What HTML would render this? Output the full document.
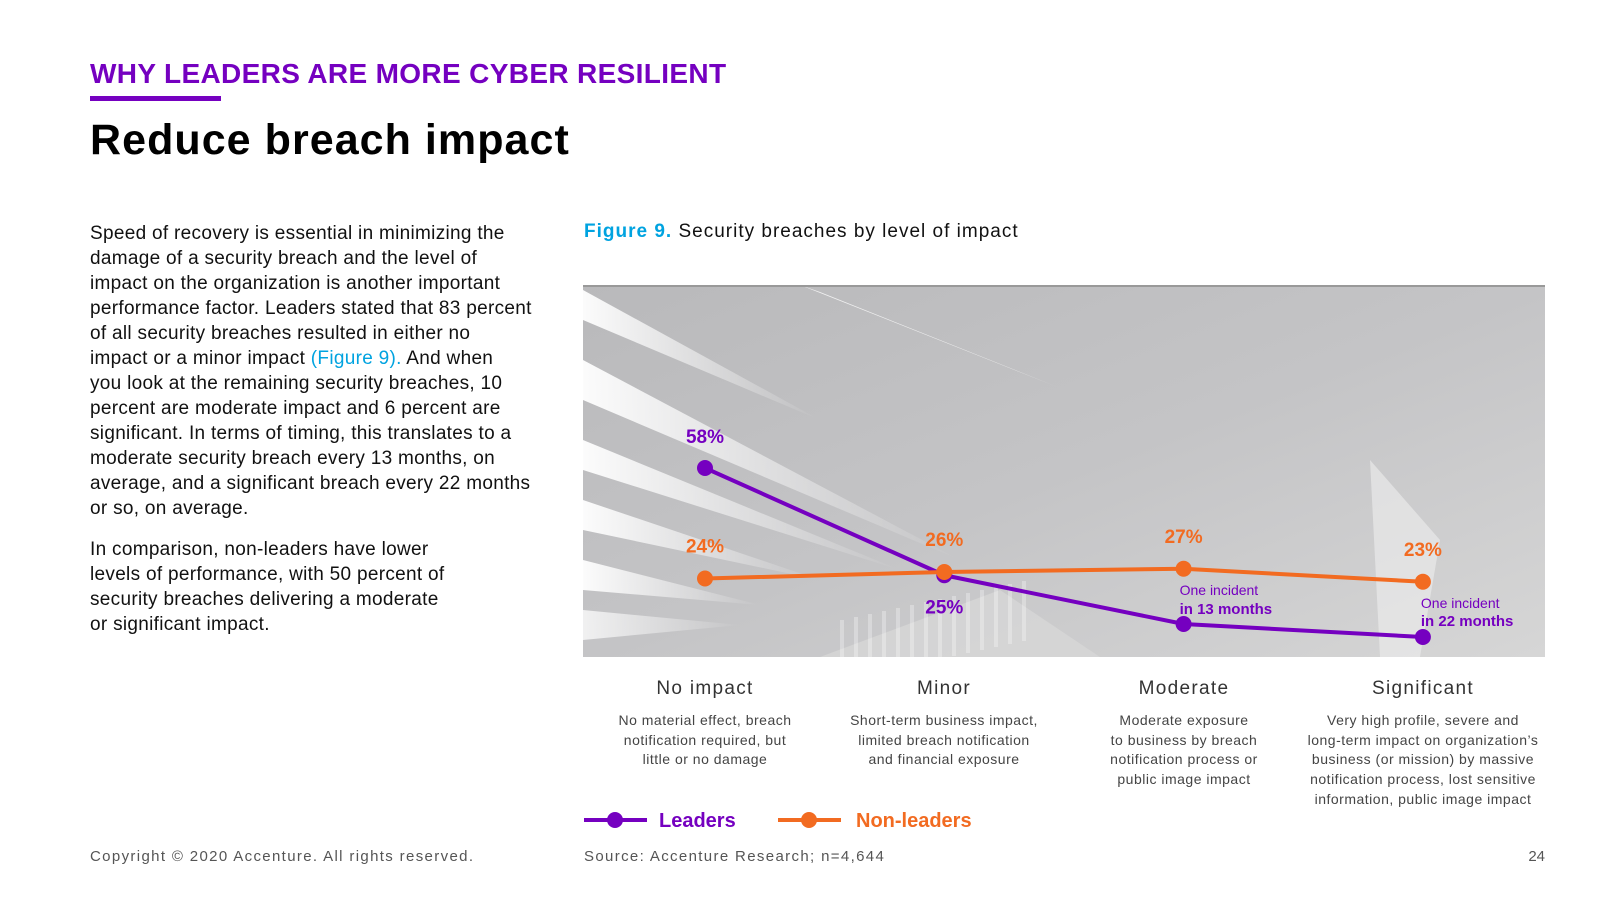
<!DOCTYPE html>
<html><head><meta charset="utf-8">
<style>
html,body{margin:0;padding:0;background:#fff;}
body{width:1600px;height:900px;position:relative;overflow:hidden;font-family:"Liberation Sans",sans-serif;color:#000;}
.abs{position:absolute;}
#kicker{left:90px;top:58px;font-size:28px;font-weight:bold;color:#7500c0;letter-spacing:0.35px;white-space:nowrap;}
#rule{left:90px;top:96px;width:131px;height:5px;background:#7500c0;}
#title{left:90px;top:116px;font-size:43px;font-weight:bold;letter-spacing:1.05px;white-space:nowrap;}
.body{left:90px;font-size:19px;line-height:25px;color:#111;white-space:nowrap;letter-spacing:0.3px;}
#figtitle{left:584px;top:221px;font-size:19px;color:#111;letter-spacing:1px;white-space:nowrap;}
#figtitle b{color:#00a3e0;}
.cat{width:220px;text-align:center;font-size:19px;color:#333;top:678px;letter-spacing:1.3px;}
.desc{width:260px;text-align:center;font-size:14px;line-height:19.7px;color:#444;top:711px;letter-spacing:0.5px;white-space:nowrap;}
.foot{top:848px;font-size:15px;color:#555;letter-spacing:1.35px;white-space:nowrap;}
</style></head>
<body>
<div class="abs" id="kicker">WHY LEADERS ARE MORE CYBER RESILIENT</div>
<div class="abs" id="rule"></div>
<div class="abs" id="title">Reduce breach impact</div>
<div class="abs body" style="top:221px;">Speed of recovery is essential in minimizing the<br>damage of a security breach and the level of<br>impact on the organization is another important<br>performance factor. Leaders stated that 83 percent<br>of all security breaches resulted in either no<br>impact or a minor impact <span style="color:#00a3e0">(Figure 9).</span> And when<br>you look at the remaining security breaches, 10<br>percent are moderate impact and 6 percent are<br>significant. In terms of timing, this translates to a<br>moderate security breach every 13 months, on<br>average, and a significant breach every 22 months<br>or so, on average.</div>
<div class="abs body" style="top:537px;">In comparison, non-leaders have lower<br>levels of performance, with 50 percent of<br>security breaches delivering a moderate<br>or significant impact.</div>
<div class="abs" id="figtitle"><b>Figure 9.</b> Security breaches by level of impact</div>

<svg class="abs" style="left:0;top:0" width="1600" height="900" id="chart">
<defs>
<linearGradient id="bg" x1="0" y1="0" x2="1" y2="1">
<stop offset="0" stop-color="#b9b9bb"/><stop offset="0.5" stop-color="#c4c4c6"/><stop offset="1" stop-color="#d6d6d6"/></linearGradient>
<linearGradient id="streak" x1="0" y1="0" x2="1" y2="0"><stop offset="0" stop-color="#fff" stop-opacity="0.95"/><stop offset="1" stop-color="#fff" stop-opacity="0"/></linearGradient>
<clipPath id="clip"><rect x="583" y="285" width="962" height="372"/></clipPath>
</defs>
<g clip-path="url(#clip)">
<rect x="583" y="285" width="962" height="372" fill="url(#bg)"/>
<polygon points="583,290 583,320 820,420" fill="url(#streak)"/>
<polygon points="800,285 820,292 1060,388" fill="#fff" opacity="0.8"/>
<polygon points="583,360 583,400 960,560" fill="url(#streak)"/>
<polygon points="583,440 583,470 900,570" fill="url(#streak)"/>
<polygon points="583,500 583,530 820,580" fill="url(#streak)"/>
<polygon points="583,560 583,590 760,605" fill="url(#streak)"/>
<polygon points="583,610 583,640 740,625" fill="url(#streak)" opacity="0.8"/>
<polygon points="1370,460 1440,540 1420,657 1380,657" fill="#eee" opacity="0.6"/>
<polygon points="820,657 1000,590 1100,657" fill="#d8d8d8" opacity="0.7"/>
<g id="fins" opacity="0.3"></g>
<rect x="583" y="285" width="962" height="2" fill="#999"/>
</g>
<g id="series"></g>
</svg>

<div class="abs cat" style="left:595px">No impact</div>
<div class="abs cat" style="left:834px">Minor</div>
<div class="abs cat" style="left:1074px">Moderate</div>
<div class="abs cat" style="left:1313px">Significant</div>
<div class="abs desc" style="left:575px">No material effect, breach<br>notification required, but<br>little or no damage</div>
<div class="abs desc" style="left:814px">Short-term business impact,<br>limited breach notification<br>and financial exposure</div>
<div class="abs desc" style="left:1054px">Moderate exposure<br>to business by breach<br>notification process or<br>public image impact</div>
<div class="abs desc" style="left:1293px">Very high profile, severe and<br>long-term impact on organization’s<br>business (or mission) by massive<br>notification process, lost sensitive<br>information, public image impact</div>

<svg class="abs" style="left:580px;top:805px" width="420" height="30">
<g>
<line x1="4" y1="15" x2="67" y2="15" stroke="#7500c0" stroke-width="4"/><circle cx="35" cy="15" r="8" fill="#7500c0"/>
<text x="79" y="22" font-size="20" font-weight="bold" fill="#7500c0" font-family="Liberation Sans, sans-serif">Leaders</text></g>
<g>
<line x1="198" y1="15" x2="261" y2="15" stroke="#f26b21" stroke-width="4"/><circle cx="229" cy="15" r="8" fill="#f26b21"/>
<text x="276" y="22" font-size="20" font-weight="bold" fill="#f26b21" font-family="Liberation Sans, sans-serif">Non-leaders</text></g>
</svg>

<div class="abs foot" style="left:90px">Copyright © 2020 Accenture. All rights reserved.</div>
<div class="abs foot" style="left:584px">Source: Accenture Research; n=4,644</div>
<div class="abs foot" style="left:1500px;width:45px;text-align:right;letter-spacing:0">24</div>

<script>
const categories = ["No impact","Minor","Moderate","Significant"];
const leaders = [58, 25, 10, 6];
const nonLeaders = [24, 26, 27, 23];
const leaderLabels = ["58%","25%","",""];
const nonLeaderLabels = ["24%","26%","27%","23%"];

const NS = "http://www.w3.org/2000/svg";
const xPos = i => 705 + i * 239.3;
const yPos = v => 656.5 - v * 3.25;
const g = document.getElementById('series');
const fins = document.getElementById('fins');
for (let k = 0; k < 14; k++) {
  const r = document.createElementNS(NS, 'rect');
  r.setAttribute('x', 840 + k * 14); r.setAttribute('y', 620 - k * 3);
  r.setAttribute('width', 4); r.setAttribute('height', 60);
  r.setAttribute('fill', '#fff');
  
  
  fins.appendChild(r);
}
function mk(tag, attrs) { const e = document.createElementNS(NS, tag); for (const k in attrs) e.setAttribute(k, attrs[k]); g.appendChild(e); return e; }
function drawSeries(vals, color, name) {
  const pts = vals.map((v, i) => xPos(i) + ',' + yPos(v)).join(' ');
  const pl = mk('polyline', {points: pts, fill: 'none', stroke: color, 'stroke-width': 4, 'stroke-linejoin': 'round'});
  
  
  vals.forEach((v, i) => {
    const c = mk('circle', {cx: xPos(i), cy: yPos(v), r: 8, fill: color});
    
    
  });
}
drawSeries(leaders, '#7500c0', 'leaders');
drawSeries(nonLeaders, '#f26b21', 'non-leaders');
function label(x, y, txt, color, size, weight, anchor, nm) {
  const t = mk('text', {x: x, y: y, fill: color, 'font-size': size, 'font-weight': weight, 'text-anchor': anchor, 'font-family': 'Liberation Sans, sans-serif'});
  t.textContent = txt;
  
  
}
leaders.forEach((v, i) => {
  if (!leaderLabels[i]) return;
  const above = i === 0;
  label(xPos(i), above ? yPos(v) - 25 : yPos(v) + 38, leaderLabels[i], '#7500c0', 19, 'bold', 'middle', 'leaders-value-label');
});
nonLeaders.forEach((v, i) => {
  label(xPos(i), yPos(v) - 26, nonLeaderLabels[i], '#f26b21', 19, 'bold', 'middle', 'non-leaders-value-label');
});
label(xPos(2) - 4, yPos(leaders[2]) - 29, 'One incident', '#7500c0', 14, 'normal', 'start', 'moderate-incident-note');
label(xPos(2) - 4, yPos(leaders[2]) - 10, 'in 13 months', '#7500c0', 15, 'bold', 'start', 'moderate-incident-note');
label(xPos(3) - 2, yPos(leaders[3]) - 29, 'One incident', '#7500c0', 14, 'normal', 'start', 'significant-incident-note');
label(xPos(3) - 2, yPos(leaders[3]) - 11, 'in 22 months', '#7500c0', 15, 'bold', 'start', 'significant-incident-note');
</script>
</body></html>
